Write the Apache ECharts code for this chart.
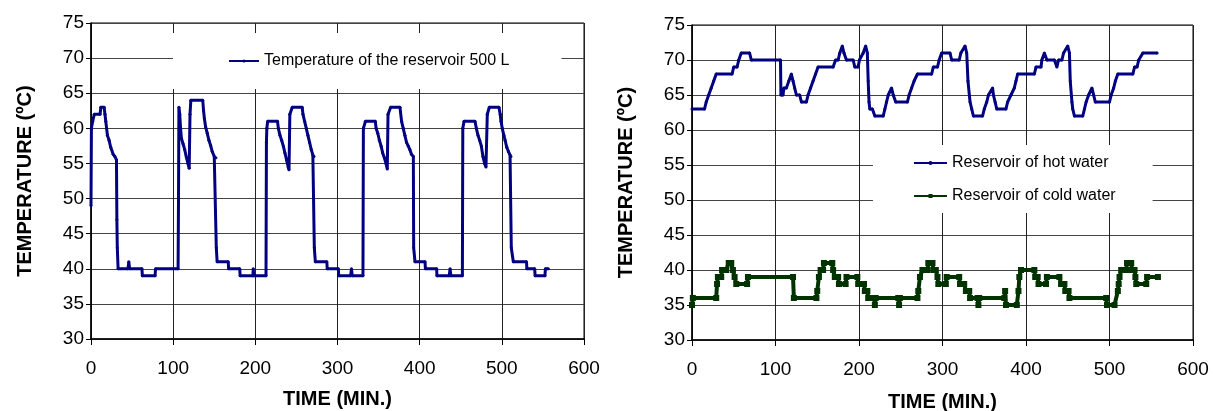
<!DOCTYPE html>
<html>
<head>
<meta charset="utf-8">
<script src="https://cdn.jsdelivr.net/npm/echarts@6/dist/echarts.min.js"></script>
<style>
  html, body { margin: 0; padding: 0; background: #fff; }
  #chart { width: 1213px; height: 411px; }
</style>
</head>
<body>
<div id="chart"></div>
<script>
// ---- data (time in min, temperature in ºC) ----
const xTicks = [0, 100, 200, 300, 400, 500, 600];
const yTicks = [30, 35, 40, 45, 50, 55, 60, 65, 70, 75];

const nameReservoir = "Temperature of the reservoir 500 L";
const nameHot = "Reservoir of hot water";
const nameCold = "Reservoir of cold water";

const reservoir500 = [
  [0, 49], [0.5, 60], [2, 61], [4, 62], [11, 62], [12, 63], [16, 63], [17, 62], [18, 61], [19, 60],
  [20, 59], [22, 58.3], [24, 57.3], [27, 56.3], [29, 56], [31, 55.5], [31.5, 47], [32, 43], [33, 40],
  [45, 40], [46, 41], [47, 40], [62, 40], [62.5, 39], [78, 39], [78.5, 40], [106, 40], [106.5, 50],
  [107, 63], [108, 62], [109, 60], [110, 58.6], [112, 57.8], [114, 57], [116, 55.9], [118, 55],
  [119.5, 54.3], [120.5, 62], [121.5, 64], [136, 64], [137, 62.5], [138, 61.4], [139.5, 60.2],
  [141.5, 59.3], [143.5, 58.3], [145.5, 57.6], [147.5, 56.7], [150, 56], [152, 55.8], [152.5, 43],
  [153.5, 41], [167, 41], [167.5, 40], [181, 40], [181.5, 39], [197, 39], [197.5, 40], [198, 39],
  [213, 39], [213.5, 58], [214, 60], [215, 61], [227, 61], [228, 60], [230, 59], [232, 58.3],
  [234, 57.5], [236, 56.5], [238, 55.5], [240, 54.5], [241, 54.1], [242, 62], [245, 63], [257, 63],
  [258, 62], [260, 61], [262, 60], [264, 59], [266, 58], [268, 57], [270, 56.2], [271.4, 56],
  [271.8, 43], [273, 41], [287, 41], [287.5, 40], [301, 40], [301.5, 39], [316, 39], [317, 40],
  [318, 39], [331, 39], [331.5, 60], [334, 61], [346, 61], [347, 60], [349, 59.3], [351, 58.3],
  [353, 57.5], [355, 56.5], [357, 55.8], [359, 55], [360.6, 54.2], [361.5, 62], [364.7, 63],
  [376, 63], [378, 61], [380, 60], [382, 59], [384, 58], [386, 57.5], [388, 57], [390, 56.3],
  [392.3, 56], [392.7, 43], [394.3, 41], [406.5, 41], [407, 40], [420.7, 40], [421, 39], [436, 39],
  [437, 40], [438, 39], [452, 39], [452.5, 60], [454, 61], [467.3, 61], [469, 60], [471, 59],
  [473, 58.3], [475, 57.5], [477, 56], [479, 55], [480.7, 54.5], [482.3, 62], [484.8, 63],
  [496.5, 63], [498, 62], [499, 61], [500.5, 60], [502.5, 59], [504, 58.3], [506, 57.3],
  [508, 56.7], [510, 56.2], [511.1, 56], [511.5, 43], [514, 41], [530, 41], [530.5, 40], [540, 40],
  [540.5, 39], [552.5, 39], [553, 40], [556.6, 40]
];

const hotWater = [
  [0, 63], [15, 63], [17, 64], [20, 65], [23, 66], [26, 67], [29, 68], [48, 68], [50, 69], [54, 69],
  [56, 70], [59, 71], [69, 71], [71, 70], [106, 70], [106.5, 65], [109, 65], [110, 66], [113, 66],
  [116, 67], [119, 68], [121, 67], [123, 66], [125, 65], [129, 65], [131, 64], [137, 64], [139, 65],
  [142, 66], [145, 67], [148, 68], [151, 69], [169, 69], [172, 70], [175, 70], [177, 71], [180, 72],
  [182, 71], [185, 70], [193, 70], [195, 69], [199, 69], [200.5, 70], [205, 71], [208, 72],
  [210, 71], [211, 67], [212, 64], [213, 63], [216, 63], [219, 62], [229, 62], [231, 63], [233, 64],
  [235, 65], [239, 66], [241, 65], [244, 64], [258, 64], [260, 65], [263, 66], [266, 67], [270, 68],
  [287, 68], [289, 69], [294, 69], [296, 70], [299, 71], [309, 71], [311, 70], [320, 70], [322, 71],
  [327, 72], [329, 71], [330.5, 67], [333, 64], [335, 63], [337, 62], [348, 62], [350, 63],
  [353, 64], [355, 65], [360, 66], [361, 65], [363, 64], [365, 63], [376, 63], [378, 64], [382, 65],
  [386, 66], [388, 67], [390, 68], [410, 68], [412, 69], [418, 69], [419, 70], [422, 71], [425, 70],
  [434, 70], [437, 69], [439, 70], [443, 70], [445, 71], [450, 72], [452, 71], [453, 67], [455, 64],
  [456, 63], [458, 62], [468, 62], [470, 63], [472, 64], [475, 65], [479, 66], [481, 65], [483, 64],
  [500, 64], [502, 65], [505, 66], [507, 67], [510, 68], [528, 68], [530, 69], [533, 69], [535, 70],
  [540, 71], [557, 71]
];

const coldWater = [
  [0, 35], [1, 36], [29, 36], [30, 38], [31, 39], [35, 39], [36, 40], [41, 40], [44, 41], [47, 41],
  [49, 40], [51, 39], [53, 38], [66, 38], [67, 39], [121, 39], [122, 36], [149, 36], [150, 37],
  [152, 39], [154, 40], [157, 40], [158, 41], [168, 41], [169, 40], [171, 39], [175, 39], [176, 38],
  [184, 38], [185, 39], [198, 39], [199, 38], [206, 38], [207, 37], [210, 37], [211, 36], [218, 36],
  [219, 35], [220, 36], [247, 36], [248, 35], [249, 36], [270, 36], [271, 37], [273, 39], [276, 40],
  [282, 40], [283, 41], [288, 41], [289, 40], [292, 40], [294, 39], [295, 38], [304, 38], [305, 39],
  [320, 39], [321, 38], [326, 38], [328, 37], [332, 37], [333, 36], [342, 36], [343, 35], [344, 36],
  [374, 36], [375, 37], [376, 35], [389, 35], [391, 37], [392, 39], [394, 40], [410, 40], [411, 39],
  [414, 39], [415, 38], [424, 38], [425, 39], [440, 39], [442, 38], [446, 38], [447, 37], [451, 37],
  [452, 36], [496, 36], [497, 35], [506, 35], [510, 37], [511, 38], [512, 39], [514, 40], [520, 40],
  [521, 41], [526, 41], [527, 40], [530, 40], [531, 39], [532, 38], [544, 38], [545, 39], [558, 39]
];

const FONT = "'Liberation Sans', Arial, sans-serif";
const NAVY = "#000080";
const GREEN = "#003300";

function xAxisFor(gridIndex, gap) {
  return {
    type: "value",
    gridIndex: gridIndex,
    min: xTicks[0],
    max: xTicks[xTicks.length - 1],
    interval: xTicks[1] - xTicks[0],
    name: "TIME (MIN.)",
    nameLocation: "middle",
    nameGap: gap,
    nameTextStyle: { fontFamily: FONT, fontSize: 20, fontWeight: "bold", color: "#000" },
    axisLine: { show: true, onZero: false, lineStyle: { color: "#000", width: 1.5 } },
    axisTick: { show: true, length: 6, lineStyle: { color: "#000" } },
    axisLabel: { fontFamily: FONT, fontSize: 19, color: "#000", margin: 20 },
    splitLine: { show: true, lineStyle: { color: "#222", width: 1 } }
  };
}

function yAxisFor(gridIndex, gap) {
  return {
    type: "value",
    gridIndex: gridIndex,
    min: yTicks[0],
    max: yTicks[yTicks.length - 1],
    interval: yTicks[1] - yTicks[0],
    name: "TEMPERATURE (ºC)",
    nameLocation: "middle",
    nameGap: gap,
    nameTextStyle: { fontFamily: FONT, fontSize: 20, fontWeight: "bold", color: "#000" },
    axisLine: { show: true, onZero: false, lineStyle: { color: "#000", width: 1.5 } },
    axisTick: { show: true, length: 5, lineStyle: { color: "#000" } },
    axisLabel: { fontFamily: FONT, fontSize: 19, color: "#000", margin: 7 },
    splitLine: { show: true, lineStyle: { color: "#444", width: 1 } }
  };
}

const chart = echarts.init(document.getElementById("chart"));

chart.setOption({
  animation: false,
  backgroundColor: "#fff",
  grid: [
    { left: 91, top: 23, width: 493, height: 316, show: true, borderColor: "#000", borderWidth: 1, outerBoundsMode: "none" },
    { left: 692, top: 25, width: 501, height: 315, show: true, borderColor: "#000", borderWidth: 1, outerBoundsMode: "none" }
  ],
  xAxis: [xAxisFor(0, 50), xAxisFor(1, 52)],
  yAxis: [yAxisFor(0, 56), yAxisFor(1, 56)],
  legend: [
    {
      data: [nameReservoir],
      left: 173,
      top: 33,
      padding: [20, 52, 20, 55],
      backgroundColor: "#fff",
      itemWidth: 30,
      itemHeight: 4,
      textStyle: { fontFamily: FONT, fontSize: 16, color: "#000" }
    },
    {
      data: [nameHot, nameCold],
      orient: "vertical",
      left: 873,
      top: 145,
      padding: [10, 37, 9, 40],
      itemGap: 17,
      backgroundColor: "#fff",
      itemWidth: 33,
      itemHeight: 5,
      textStyle: { fontFamily: FONT, fontSize: 16, color: "#000", lineHeight: 16 }
    }
  ],
  series: [
    {
      name: nameReservoir,
      type: "line",
      xAxisIndex: 0,
      yAxisIndex: 0,
      data: reservoir500,
      symbol: "circle",
      symbolSize: 3,
      color: NAVY,
      lineStyle: { color: NAVY, width: 3 }
    },
    {
      name: nameHot,
      type: "line",
      xAxisIndex: 1,
      yAxisIndex: 1,
      data: hotWater,
      symbol: "circle",
      symbolSize: 3,
      color: NAVY,
      lineStyle: { color: NAVY, width: 3 }
    },
    {
      name: nameCold,
      type: "line",
      xAxisIndex: 1,
      yAxisIndex: 1,
      data: coldWater,
      symbol: "rect",
      symbolSize: 6,
      color: GREEN,
      lineStyle: { color: GREEN, width: 4 }
    }
  ]
});
</script>
</body>
</html>
